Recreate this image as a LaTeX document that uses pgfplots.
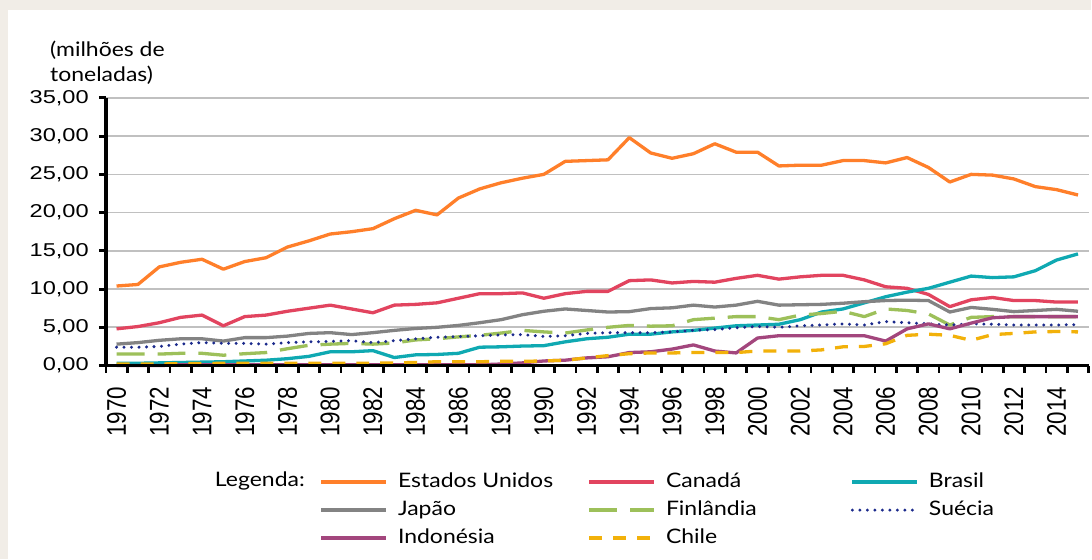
\documentclass[border=0pt]{standalone}
\usepackage{fontspec}
\setmainfont{Lato}[FakeStretch=1.15]
\newfontfamily\tickfont{Liberation Sans}[FakeStretch=1.27]
\newfontfamily\xtickfont{Liberation Sans}[FakeStretch=0.83]
\usepackage{pgfplots}
\usepackage{pgfplotstable}
\pgfplotsset{compat=1.18}

\definecolor{bgbeige}{HTML}{F1EDE7}
\definecolor{gridgray}{HTML}{C0C0C0}
\definecolor{ceua}{HTML}{FF7F2A}
\definecolor{ccan}{HTML}{E2445F}
\definecolor{cbra}{HTML}{0FA9B2}
\definecolor{cjap}{HTML}{838383}
\definecolor{cfin}{HTML}{9DC05A}
\definecolor{csue}{HTML}{1B2A8C}
\definecolor{cind}{HTML}{A3467D}
\definecolor{cchi}{HTML}{F2B10A}

% milhoes de toneladas, 1970-2015
\pgfplotstableread{
year eua  can  bra  jap  fin  sue  ind  chi
1970 10.4 4.8  0.3  2.8  1.5  2.4  0.0  0.2
1971 10.6 5.1  0.3  3.0  1.5  2.4  0.0  0.2
1972 12.9 5.6  0.35 3.3  1.5  2.5  0.0  0.2
1973 13.5 6.3  0.4  3.5  1.6  2.8  0.1  0.25
1974 13.9 6.6  0.45 3.5  1.6  3.0  0.1  0.25
1975 12.6 5.2  0.5  3.2  1.35 2.9  0.1  0.3
1976 13.6 6.4  0.6  3.65 1.55 2.9  0.1  0.3
1977 14.1 6.6  0.7  3.65 1.7  2.8  0.1  0.3
1978 15.5 7.1  0.9  3.85 2.2  3.0  0.1  0.3
1979 16.3 7.5  1.2  4.2  2.65 3.1  0.1  0.3
1980 17.2 7.9  1.8  4.3  2.8  3.15 0.1  0.3
1981 17.5 7.4  1.8  4.05 2.9  3.25 0.1  0.3
1982 17.9 6.9  1.95 4.3  2.8  3.0  0.1  0.3
1983 19.2 7.9  1.05 4.6  2.95 3.25 0.1  0.35
1984 20.3 8.0  1.4  4.85 3.35 3.5  0.1  0.4
1985 19.7 8.2  1.45 5.0  3.5  3.7  0.1  0.5
1986 21.9 8.8  1.6  5.25 3.75 3.8  0.1  0.5
1987 23.1 9.4  2.4  5.6  3.95 3.9  0.1  0.5
1988 23.9 9.4  2.45 6.0  4.25 4.0  0.2  0.55
1989 24.5 9.5  2.55 6.65 4.6  4.05 0.35 0.55
1990 25.0 8.8  2.6  7.1  4.4  3.8  0.6  0.6
1991 26.7 9.4  3.1  7.4  4.25 3.9  0.7  0.7
1992 26.8 9.7  3.5  7.2  4.65 4.2  1.0  1.0
1993 26.9 9.7  3.7  7.0  5.0  4.3  1.15 1.3
1994 29.8 11.1 4.1  7.05 5.25 4.3  1.7  1.55
1995 27.8 11.2 4.1  7.45 5.15 4.3  1.8  1.65
1996 27.1 10.8 4.4  7.55 5.2  4.4  2.15 1.65
1997 27.7 11.0 4.6  7.9  6.0  4.6  2.7  1.7
1998 29.0 10.9 4.9  7.65 6.2  4.7  1.9  1.7
1999 27.9 11.4 5.2  7.9  6.4  4.95 1.65 1.7
2000 27.9 11.8 5.3  8.4  6.4  5.1  3.6  1.9
2001 26.1 11.3 5.4  7.9  6.0  5.0  3.9  1.9
2002 26.2 11.6 6.0  7.95 6.6  5.2  3.9  1.9
2003 26.2 11.8 7.0  8.0  6.8  5.3  3.9  2.05
2004 26.8 11.8 7.4  8.15 7.1  5.45 3.9  2.45
2005 26.8 11.2 8.2  8.35 6.4  5.3  3.9  2.5
2006 26.5 10.3 9.0  8.5  7.4  5.75 3.2  2.85
2007 27.2 10.1 9.6  8.55 7.2  5.6  4.8  3.95
2008 25.9 9.3  10.1 8.5  6.75 5.45 5.45 4.1
2009 24.0 7.7  10.9 7.0  5.3  5.3  4.8  3.95
2010 25.0 8.6  11.7 7.6  6.3  5.45 5.55 3.3
2011 24.9 8.9  11.5 7.35 6.4  5.4  6.25 4.05
2012 24.4 8.5  11.6 7.05 6.4  5.3  6.4  4.2
2013 23.4 8.5  12.4 7.2  6.4  5.3  6.4  4.4
2014 23.0 8.3  13.8 7.35 6.4  5.3  6.4  4.45
2015 22.3 8.3  14.6 7.1  6.4  5.35 6.4  4.4
}\papel

\begin{document}
\begin{tikzpicture}[x=1pt,y=1pt]
\fill[bgbeige] (0,0) rectangle (1092,560);
\fill[white] (8,0) rectangle (1092,550);
\node[anchor=base west, inner sep=0pt, font=\fontsize{20}{24}\selectfont] at (50,503) {(milhões de};
\node[anchor=base west, inner sep=0pt, font=\fontsize{20}{24}\selectfont] at (50,478) {toneladas)};
\node[anchor=base west, inner sep=0pt, font=\fontsize{20}{24}\selectfont] at (215,73) {Legenda:};

\begin{axis}[
  at={(106pt,194pt)}, anchor=south west,
  scale only axis, width=984pt, height=268pt,
  xmin=1969.5, xmax=2015.5, ymin=0, ymax=35,
  axis lines*=left,
  axis line style={line width=3.5pt, black},
  clip=false,
  tick align=outside,
  ytick={0,5,...,35},
  ymajorgrids,
  grid style={gridgray, line width=1.7pt},
  major tick length=7pt,
  ytick style={line width=3pt, black},
  xtick={1969.5,1970.5,...,2015.5},
  xticklabels={},
  xtick style={line width=2.7pt, black},
  extra x ticks={1970,1972,...,2014},
  extra x tick style={major tick length=0pt, grid=none,
    tick style={draw=none},
    xticklabel style={yshift=-21pt, rotate=90, anchor=east, inner sep=0pt,
      font=\xtickfont\fontsize{27}{27}\selectfont}},
  /pgf/number format/1000 sep={},
  /pgf/number format/assume math mode=true,
  yticklabel style={anchor=east, inner sep=0pt, xshift=-10pt,
    font=\tickfont\fontsize{18.6}{20}\selectfont,
    /pgf/number format/.cd, fixed, fixed zerofill, precision=2, use comma},
  every axis plot/.append style={line width=3.3pt, line join=round},
  legend columns=3,
  legend image code/.code={\draw[#1] (0pt,0pt) -- (65pt,0pt);},
  legend style={at={(0.2175,-0.3993)}, anchor=north west, draw=none, fill=none,
    inner sep=0pt, row sep=9pt, column sep=0pt,
    nodes={inner sep=0pt, text height=15pt, text depth=4pt},
    font=\fontsize{20}{24}\selectfont},
]
\addplot[ceua] table[x=year, y=eua] {\papel};
\addlegendentry{\makebox[200pt][l]{\hspace{10pt}Estados Unidos}}
\addplot[ccan] table[x=year, y=can] {\papel};
\addlegendentry{\makebox[195pt][l]{\hspace{10pt}Canadá}}
\addplot[cbra] table[x=year, y=bra] {\papel};
\addlegendentry{\makebox[120pt][l]{\hspace{10pt}Brasil}}
\addplot[cjap] table[x=year, y=jap] {\papel};
\addlegendentry{\makebox[200pt][l]{\hspace{10pt}Japão}}
\addplot[cfin, dash pattern=on 28pt off 13pt] table[x=year, y=fin] {\papel};
\addlegendentry{\makebox[195pt][l]{\hspace{10pt}Finlândia}}
\addplot[csue, line cap=round, dash pattern=on 0pt off 7.5pt] table[x=year, y=sue] {\papel};
\addlegendentry{\makebox[120pt][l]{\hspace{10pt}Suécia}}
\addplot[cind] table[x=year, y=ind] {\papel};
\addlegendentry{\makebox[200pt][l]{\hspace{10pt}Indonésia}}
\addplot[cchi, dash pattern=on 13pt off 11pt] table[x=year, y=chi] {\papel};
\addlegendentry{\makebox[195pt][l]{\hspace{10pt}Chile}}
\draw[line width=3.5pt, black] (axis cs:1969.5,0) -- (axis cs:2015.5,0);
\end{axis}
\end{tikzpicture}
\end{document}
